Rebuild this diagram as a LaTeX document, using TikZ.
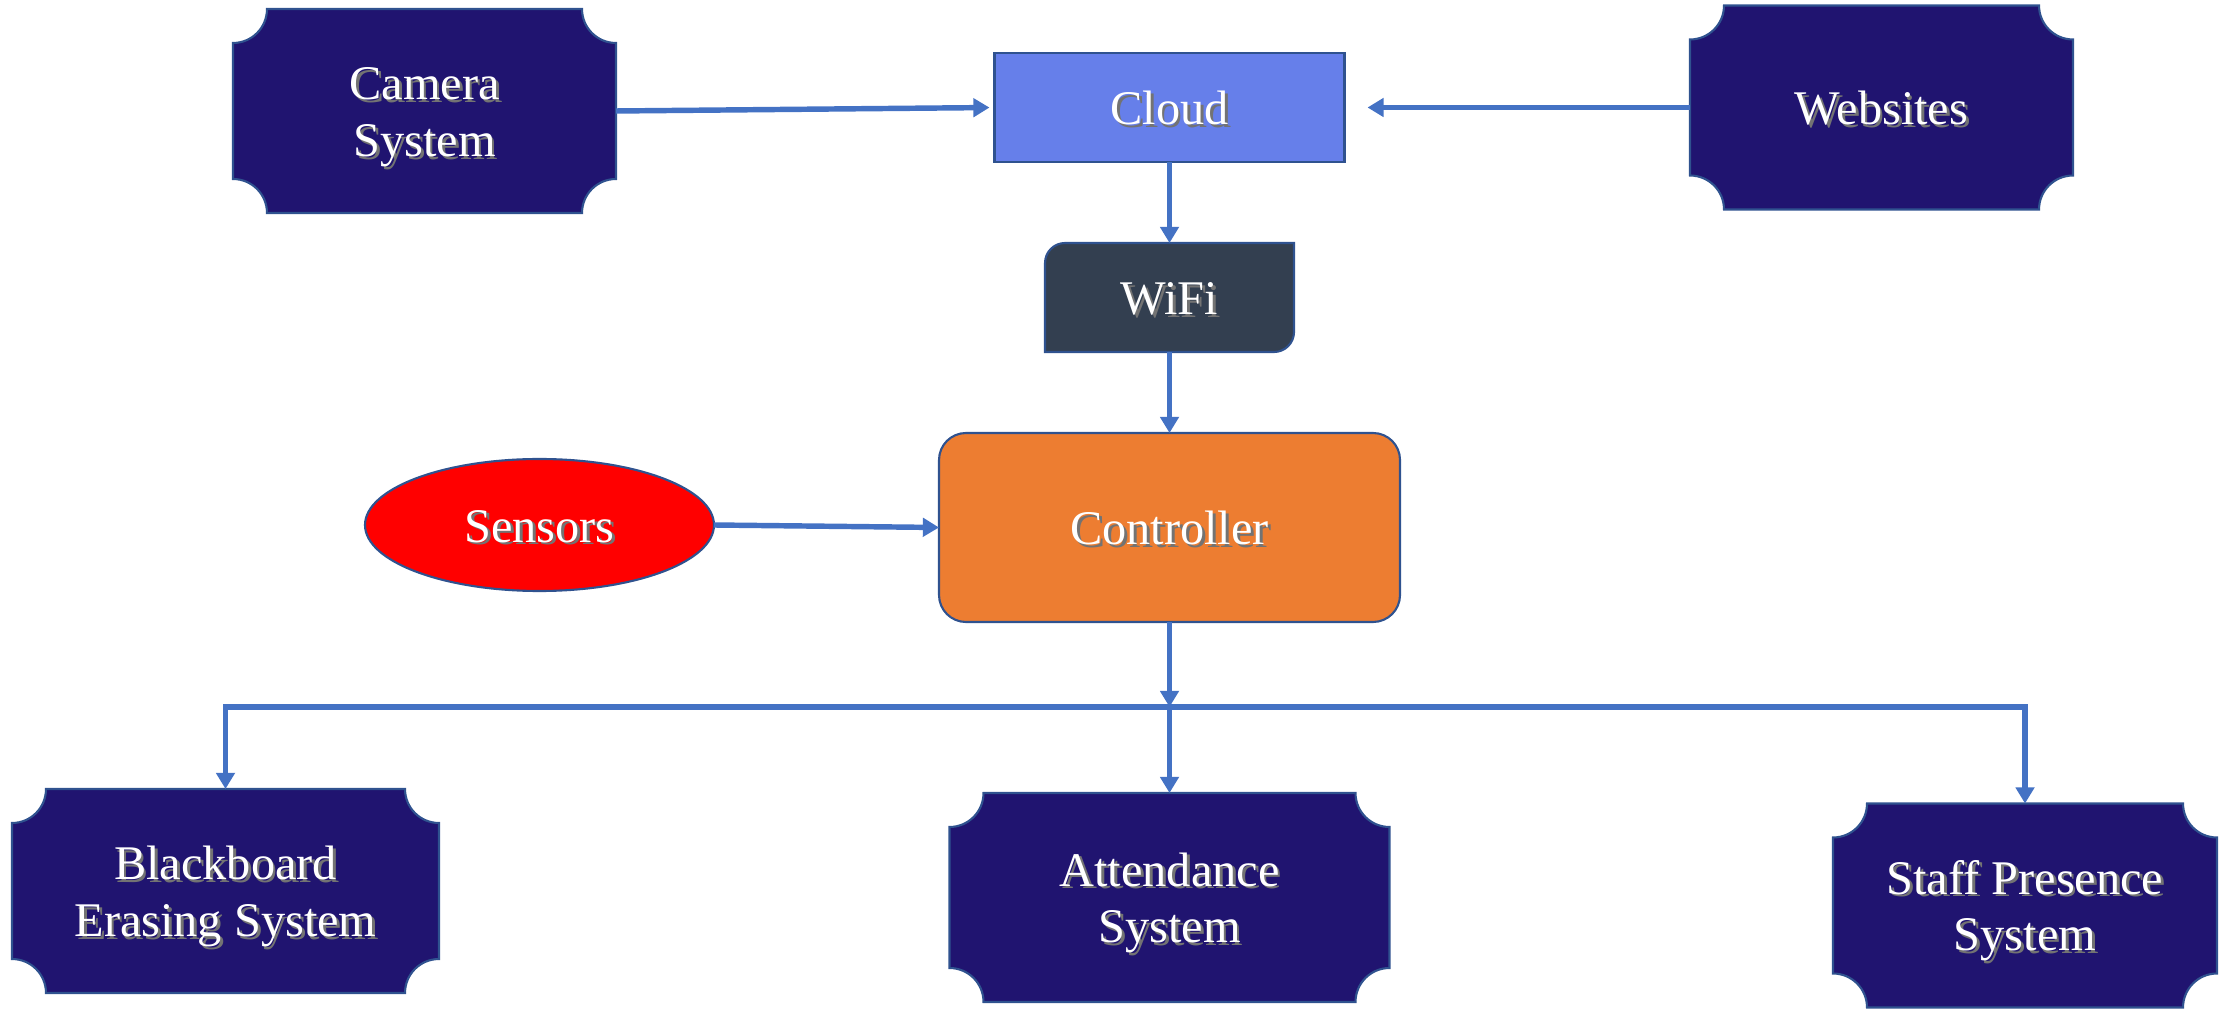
\documentclass[tikz,border=0pt]{standalone}
\usepackage{fontspec}
\setmainfont{Liberation Serif}
\usetikzlibrary{positioning, shapes, arrows.meta, backgrounds}
\definecolor{plaqueblue}{RGB}{32,20,112}
\definecolor{edgeblue}{RGB}{47,82,143}
\definecolor{cloudblue}{RGB}{102,127,234}
\definecolor{wifigray}{RGB}{51,63,80}
\definecolor{ctrlorange}{RGB}{237,125,49}
\definecolor{linkblue}{RGB}{68,114,196}
\newlength\Notch
\setlength\Notch{3.4mm}
\newcommand\Stack[1]{\begin{tabular}{@{}c@{}}#1\end{tabular}}
\newcommand\Textshadow[1]{%
  \raisebox{-2pt}[\height][\depth]{%
  \makebox[0pt][l]{\kern0.8pt\raisebox{-0.8pt}{\color{black!55}\Stack{#1}}}\Stack{#1}}}
\newcommand\Plaque[1]{%
  \filldraw[fill=plaqueblue, draw=edgeblue, line width=0.6pt]
    ([xshift=\Notch]#1.south west) -- ([xshift=-\Notch]#1.south east)
    arc[start angle=180, end angle=90, radius=\Notch] -- ([yshift=-\Notch]#1.north east)
    arc[start angle=270, end angle=180, radius=\Notch] -- ([xshift=\Notch]#1.north west)
    arc[start angle=0, end angle=-90, radius=\Notch] -- ([yshift=\Notch]#1.south west)
    arc[start angle=90, end angle=0, radius=\Notch] -- cycle;}

\begin{document}
\begin{tikzpicture}[>={Triangle[width=5.2pt,length=4.6pt]},
font=\fontsize{13.75pt}{16.2pt}\selectfont,
plaque/.style={
  rectangle, outer sep=0pt, inner sep=0pt,
  text=white, align=center,
  minimum height=2.04cm
},
cloudbox/.style={
  rectangle, outer sep=0pt, draw=edgeblue, line width=0.6pt,
  fill=cloudblue, text=white,
  minimum width=3.5cm, minimum height=1.09cm
},
wifibox/.style={
  rectangle, outer sep=0pt, text=white,
  minimum width=2.49cm, minimum height=1.09cm
},
ctrlbox/.style={
  rectangle, rounded corners=2.7mm, outer sep=0pt,
  draw=edgeblue, line width=0.6pt, fill=ctrlorange, text=white,
  minimum width=4.61cm, minimum height=1.89cm
},
sensorbox/.style={
  ellipse, outer sep=0pt, inner sep=0pt,
  draw=edgeblue, line width=0.6pt, fill=red, text=white,
  minimum width=3.49cm, minimum height=1.32cm
},
link/.style={draw=linkblue, line width=1.55pt}]
\useasboundingbox (0,0) rectangle (22.29,10.10);

% top row
\node (camera) [plaque, minimum width=3.83cm] at (4.245,8.99) {\Textshadow{Camera\\System}};
\node (cloud) [cloudbox] at (11.695,9.025) {\Textshadow{Cloud}};
\node (websites) [plaque, minimum width=3.83cm] at (18.815,9.025) {\Textshadow{Websites}};

% middle
\node (wifi) [wifibox] at (11.695,7.125) {\Textshadow{WiFi}};
\node (controller) [ctrlbox] at (11.695,4.825) {\Textshadow{Controller}};
\node (sensors) [sensorbox] at (5.395,4.85) {\Textshadow{Sensors}};

% bottom row
\node (blackboard) [plaque, minimum width=4.27cm] at (2.255,1.19) {\Textshadow{Blackboard\\Erasing System}};
\node (attendance) [plaque, minimum width=4.40cm, minimum height=2.09cm] at (11.695,1.125) {\Textshadow{Attendance\\System}};
\node (staff) [plaque, minimum width=3.84cm] at (20.25,1.045) {\Textshadow{Staff Presence\\System}};

\begin{scope}[on background layer]
  \foreach \n in {camera, websites, blackboard, attendance, staff}
    {\Plaque{\n}}
  \filldraw[fill=wifigray, draw=edgeblue, line width=0.6pt]
    (wifi.south west) -- ([yshift=-2mm]wifi.north west)
    arc[start angle=180, end angle=90, radius=2mm] -- (wifi.north east)
    -- ([yshift=2mm]wifi.south east)
    arc[start angle=0, end angle=-90, radius=2mm] -- cycle;
\end{scope}

\coordinate (busL) at (2.255,3.03);
\coordinate (busR) at (20.25,3.03);

\draw[link, ->, shorten >=0.5mm] (camera.east) -- (cloud.west);
\draw[link, ->, shorten >=2.3mm] (websites.west) -- (cloud.east);
\draw[link, ->] (cloud) -- (wifi);
\draw[link, ->] (wifi) -- (controller);
\draw[link, ->] (sensors.east) -- (controller.west);
\draw[link, ->] (controller) -- (controller |- busL);
\draw[link, <->] (blackboard) -- (busL) -- (busR) -- (staff);
\draw[link, ->] (controller |- busL) -- (attendance);
\end{tikzpicture}
\end{document}
